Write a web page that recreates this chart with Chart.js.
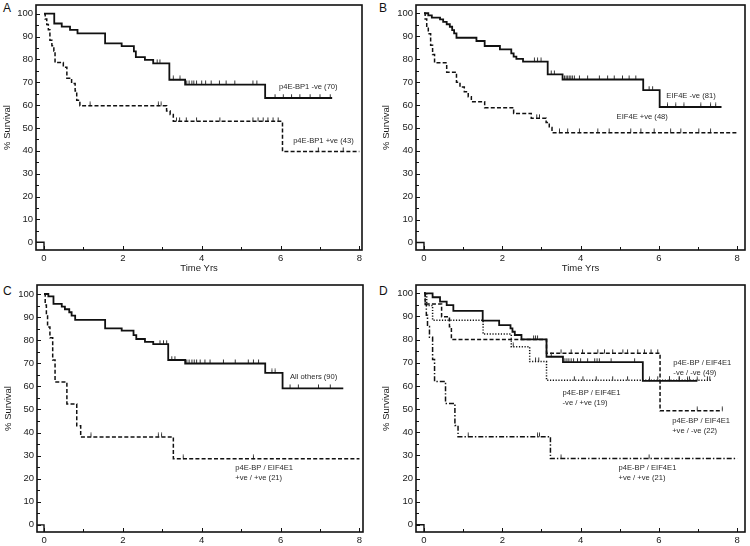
<!DOCTYPE html>
<html><head><meta charset="utf-8">
<script src="https://cdn.jsdelivr.net/npm/chart.js@4/dist/chart.umd.min.js"></script>
<style>
html,body{margin:0;padding:0;background:#fff}
body{width:750px;height:546px;overflow:hidden;position:relative;font-family:"Liberation Sans",Arial,sans-serif}
.pnl{position:absolute}
.pnl canvas{display:block}
.let{position:absolute;font-size:12px;line-height:11px;color:#111}
</style></head><body>
<div class="let" style="left:3px;top:3px">A</div>
<div class="let" style="left:379px;top:3px">B</div>
<div class="let" style="left:3px;top:286px">C</div>
<div class="let" style="left:379px;top:286px">D</div>
<div class="pnl" style="left:0;top:0;width:375px;height:276px"><canvas id="cA" width="375" height="276"></canvas></div>
<div class="pnl" style="left:375px;top:0;width:375px;height:276px"><canvas id="cB" width="375" height="276"></canvas></div>
<div class="pnl" style="left:0;top:272px;width:375px;height:274px"><canvas id="cC" width="375" height="274"></canvas></div>
<div class="pnl" style="left:375px;top:272px;width:375px;height:274px"><canvas id="cD" width="375" height="274"></canvas></div>
<script>
// ---------- DATA (times in years, survival in %) ----------
const xTickLabels = ["0","2","4","6","8"];
const yTickLabels = ["0","10","20","30","40","50","60","70","80","90","100"];
const stubT = [-0.3, 0, 0];
const stubS = [0, 0, -5];

// Panel A
const aNegT = [0,0.26,0.45,0.66,0.85,1.55,1.97,2.28,2.33,2.56,2.77,3.18,3.58,5.61,7.31];
const aNegS = [100,95.7,94.3,92.9,91.4,87.0,85.8,83.5,81.0,79.8,78.3,71.1,69.0,63.1,63.1];
const aNegC = [2.87,2.94,3.28,3.45,3.62,3.68,3.75,3.8,3.87,4.0,4.1,4.24,4.45,4.62,4.84,5.3,5.4,5.86,6.07,6.28,6.49,6.75,7.0,7.26];
const aPosT = [0,0.03,0.07,0.11,0.15,0.2,0.25,0.28,0.49,0.58,0.7,0.79,0.83,0.91,3.11,3.2,3.28,6.05,8.0];
const aPosS = [100,97.7,95.3,93.0,88.4,86.0,83.7,78.6,76.6,71.8,69.5,66.2,62.1,59.7,57.4,55.9,52.9,39.7,39.7];
const aPosC = [1.17,2.9,2.97,3.36,3.44,3.61,3.87,4.46,5.3,5.43,5.56,5.68,5.81,5.94,6.96,7.59];

// Panel B
const bNegT = [0,0.11,0.2,0.41,0.49,0.58,0.66,0.72,0.77,0.83,1.34,1.55,1.94,2.23,2.29,2.36,2.53,3.16,3.54,5.6,6.02,7.6];
const bNegS = [100,99.1,98.1,97.3,96.2,95.2,94.1,92.6,91.2,89.3,87.9,85.7,84.2,82.5,81.1,80.1,78.9,73.3,71.1,66.5,59.1,59.1];
const bNegC = [2.82,2.9,2.99,3.25,3.33,3.59,3.63,3.67,3.71,3.75,3.79,3.84,3.97,4.18,4.48,4.69,4.86,5.07,5.24,5.41,5.75,5.84,6.22,6.43,6.64,7.07,7.32,7.45];
const bPosT = [0,0.03,0.07,0.11,0.17,0.22,0.27,0.58,0.83,0.92,1.03,1.13,1.21,1.55,2.29,2.74,3.12,3.2,3.27,8.0];
const bPosS = [100,97.5,93.8,91.1,86.0,82.0,78.4,74.3,69.9,67.8,65.7,63.6,61.4,58.8,56.3,54.2,52.3,50.1,47.9,47.9];
const bPosC = [2.88,2.95,3.46,3.67,3.97,4.44,4.73,5.28,5.54,5.88,6.3,6.56,7.02,7.32];

// Panel C
const cOthT = [0,0.11,0.24,0.45,0.53,0.64,0.7,0.79,1.55,1.97,2.27,2.34,2.56,2.77,3.15,3.58,5.61,6.05,7.59];
const cOthS = [100,99.0,95.7,94.5,93.4,92.1,90.6,88.8,85.1,84.1,82.2,80.5,79.3,78.3,71.4,69.9,65.8,59.1,59.1];
const cOthC = [2.94,3.03,3.11,3.24,3.32,3.62,3.68,3.75,3.81,3.87,3.96,4.08,4.21,4.55,4.85,5.18,5.31,5.44,5.78,5.86,6.24,6.45,6.96,7.26];
const cPPT = [0,0.03,0.06,0.09,0.15,0.22,0.28,0.58,0.83,0.93,3.28,8.0];
const cPPS = [100,95.2,90.5,85.7,81.0,71.4,61.9,52.4,42.9,38.1,28.6,28.6];
const cPPC = [1.19,2.9,2.98,3.53,5.31];

// Panel D
const dNNT = [0,0.22,0.41,0.58,0.75,1.5,1.92,2.21,2.26,2.32,2.49,3.13,3.55,5.59,6.98];
const dNNS = [100,98.3,96.4,94.9,92.4,88.2,86.3,84.9,83.4,82.0,80.1,72.6,70.3,62.2,62.2];
const dNNC = [2.8,2.85,2.9,3.25,3.6,3.65,3.7,3.76,3.82,3.92,4.0,4.18,4.36,4.42,4.48,4.78,5.38,5.76,6.27,6.52,6.73,6.98];
const dPNT = [0,0.03,0.45,0.65,0.7,3.13,6.03,7.62];
const dPNS = [100,95.4,89.9,85.6,80.1,74.1,49.3,49.3];
const dPNC = [3.5,3.76,4.05,4.44,4.61,4.82,5.08,5.2,5.46,5.63,5.8,5.97,6.98,7.62];
const dNPT = [0,0.07,0.22,1.51,2.23,2.7,3.13,7.33];
const dNPS = [100,94.7,88.4,82.4,76.9,70.5,62.5,62.5];
const dNPC = [2.28,2.85,2.93,3.84,4.06,4.4,4.82,5.2,5.97,6.27,6.52,6.78,7.24,7.3];
const dPPT = [0,0.03,0.06,0.09,0.14,0.22,0.27,0.55,0.79,0.87,3.23,8.0];
const dPPS = [100,95.2,90.5,85.7,81.0,71.4,61.9,52.4,42.9,38.1,28.6,28.6];
const dPPC = [1.13,2.9,2.95,3.5,5.75];

// ---------- helpers ----------
const FONT = '"Liberation Sans", Arial, sans-serif';
const INK = '#111';
function stepAt(T, S, t) { let v = S[0]; for (let i = 0; i < T.length; i++) if (T[i] <= t + 1e-9) v = S[i]; return v; }
const censorImg = (() => {
  const c = document.createElement('canvas'); c.width = 3; c.height = 9;
  const g = c.getContext('2d'); g.strokeStyle = '#333'; g.lineWidth = 1;
  g.beginPath(); g.moveTo(1.5, 0.5); g.lineTo(1.5, 4.6); g.stroke(); return c;
})();

const STY = {
  solid:   { dash: [], w: 1.8 },
  dashed:  { dash: [4, 2.2], w: 1.5 },
  dotted:  { dash: [1.2, 1.6], w: 1.5 },
  dashdot: { dash: [5, 2, 1.4, 2], w: 1.5 }
};

function kmSets(T, S, C, style) {
  const st = STY[style];
  return [
    { type: 'line', data: T.map((t, i) => ({ x: t, y: S[i] })), stepped: 'before',
      borderColor: INK, borderWidth: st.w, borderDash: st.dash, pointRadius: 0, fill: false },
    { type: 'scatter', data: C.map(t => ({ x: t, y: stepAt(T, S, t) })), showLine: false,
      pointStyle: censorImg, pointRadius: 4, borderColor: INK, backgroundColor: INK }
  ];
}

const framePlugin = {
  id: 'frame',
  afterDraw(ch) {
    const { ctx, chartArea: a } = ch; const x = ch.scales.x, y = ch.scales.y;
    ctx.save(); ctx.strokeStyle = INK; ctx.lineWidth = 1.6;
    ctx.strokeRect(a.left, a.top, a.right - a.left, a.bottom - a.top);
    ctx.lineWidth = 1;
    for (let v = 0; v <= 100; v += 5) {
      const py = Math.round(y.getPixelForValue(v)) + 0.5, L = v % 10 === 0 ? 4 : 3;
      ctx.beginPath(); ctx.moveTo(a.left, py); ctx.lineTo(a.left + L, py); ctx.stroke();
    }
    for (let t = 0; t <= 8; t++) {
      const px = Math.round(x.getPixelForValue(t)) + 0.5, L = t % 2 === 0 ? 4 : 3;
      ctx.beginPath(); ctx.moveTo(px, a.bottom); ctx.lineTo(px, a.bottom - L); ctx.stroke();
    }
    ctx.restore();
  }
};
const notesPlugin = {
  id: 'notes',
  afterDatasetsDraw(ch, args, opts) {
    const { ctx } = ch; const x = ch.scales.x, y = ch.scales.y;
    ctx.save(); ctx.font = '7.6px ' + FONT; ctx.fillStyle = '#2a2a2a';
    ctx.textAlign = 'left'; ctx.textBaseline = 'middle';
    (opts.items || []).forEach(n => {
      const px = x.getPixelForValue(n.x), py = y.getPixelForValue(n.y);
      n.lines.forEach((s, i) => ctx.fillText(s, px, py + i * 10));
    });
    ctx.restore();
  }
};

function makeKM(id, p) {
  const datasets = [{ type: 'line', data: stubT.map((t, i) => ({ x: t, y: stubS[i] })),
    borderColor: INK, borderWidth: 1.4, pointRadius: 0, fill: false }];
  p.series.forEach(s => datasets.push(...kmSets(s.T, s.S, s.C, s.style)));
  new Chart(document.getElementById(id), {
    type: 'line',
    data: { datasets },
    plugins: [framePlugin, notesPlugin],
    options: {
      responsive: false, animation: false, events: [],
      layout: { padding: { top: p.padTop, right: p.padRight, left: 0, bottom: 0 } },
      plugins: { legend: { display: false }, tooltip: { enabled: false }, notes: { items: p.notes } },
      scales: {
        x: {
          type: 'linear', min: p.xMin, max: p.xMax,
          grid: { display: false, drawTicks: false }, border: { display: false },
          ticks: { stepSize: 2, includeBounds: false, padding: 3, color: '#1a1a1a', maxRotation: 0,
                   font: { family: FONT, size: 9.5 },
                   callback: v => xTickLabels[Math.round(v / 2)] ?? '' },
          title: p.xTitle ? { display: true, text: 'Time Yrs', color: '#1a1a1a',
                   font: { family: FONT, size: 9.5 }, padding: { top: 0, bottom: 2 } } : { display: false },
          afterFit: s => { s.height = p.xH; s.paddingLeft = 0; s.paddingRight = 0; }
        },
        y: {
          type: 'linear', min: p.yMin, max: p.yMax,
          grid: { display: false, drawTicks: false }, border: { display: false },
          ticks: { stepSize: 10, includeBounds: false, padding: 3, color: '#1a1a1a',
                   font: { family: FONT, size: 9.5 },
                   callback: v => yTickLabels[Math.round(v / 10)] ?? '' },
          title: { display: true, text: '% Survival', color: '#1a1a1a',
                   font: { family: FONT, size: 9.5 }, padding: { top: p.yTitlePad, bottom: 0 } },
          afterFit: s => { s.width = p.yW; s.paddingTop = 0; s.paddingBottom = 0; }
        }
      }
    }
  });
}

makeKM('cA', {
  xMin: -0.203, xMax: 8.067, yMin: -3.4, yMax: 103.8, yW: 36, xH: 26, padTop: 3, padRight: 13, xTitle: true, yTitlePad: 2,
  series: [
    { T: aNegT, S: aNegS, C: aNegC, style: 'solid' },
    { T: aPosT, S: aPosS, C: aPosC, style: 'dashed' }
  ],
  notes: [
    { x: 5.96, y: 67.8, lines: ['p4E-BP1 -ve (70)'] },
    { x: 6.32, y: 44.4, lines: ['p4E-BP1 +ve (43)'] }
  ]
});
makeKM('cB', {
  xMin: -0.204, xMax: 8.2, yMin: -3.3, yMax: 103.6, yW: 41, xH: 26, padTop: 3, padRight: 4, xTitle: true, yTitlePad: 6,
  series: [
    { T: bNegT, S: bNegS, C: bNegC, style: 'solid' },
    { T: bPosT, S: bPosS, C: bPosC, style: 'dashed' }
  ],
  notes: [
    { x: 6.19, y: 63.8, lines: ['EIF4E -ve (81)'] },
    { x: 4.92, y: 54.7, lines: ['EIF4E +ve (48)'] }
  ]
});
makeKM('cC', {
  xMin: -0.178, xMax: 8.09, yMin: -3.1, yMax: 103.9, yW: 37, xH: 14, padTop: 13, padRight: 12, xTitle: false, yTitlePad: 3,
  series: [
    { T: cOthT, S: cOthS, C: cOthC, style: 'solid' },
    { T: cPPT, S: cPPS, C: cPPC, style: 'dashed' }
  ],
  notes: [
    { x: 6.24, y: 64.0, lines: ['All others (90)'] },
    { x: 4.85, y: 24.6, lines: ['p4E-BP / EIF4E1', '+ve / +ve (21)'] }
  ]
});
makeKM('cD', {
  xMin: -0.204, xMax: 8.2, yMin: -3.1, yMax: 103.6, yW: 41, xH: 14, padTop: 13, padRight: 4, xTitle: false, yTitlePad: 6,
  series: [
    { T: dNNT, S: dNNS, C: dNNC, style: 'solid' },
    { T: dPNT, S: dPNS, C: dPNC, style: 'dashed' },
    { T: dNPT, S: dNPS, C: dNPC, style: 'dotted' },
    { T: dPPT, S: dPPS, C: dPPC, style: 'dashdot' }
  ],
  notes: [
    { x: 6.37, y: 69.9, lines: ['p4E-BP / EIF4E1', '-ve / -ve (49)'] },
    { x: 3.54, y: 56.9, lines: ['p4E-BP / EIF4E1', '-ve / +ve (19)'] },
    { x: 6.34, y: 44.8, lines: ['p4E-BP / EIF4E1', '+ve / -ve (22)'] },
    { x: 4.97, y: 24.5, lines: ['p4E-BP / EIF4E1', '+ve / +ve (21)'] }
  ]
});
</script>
</body></html>
